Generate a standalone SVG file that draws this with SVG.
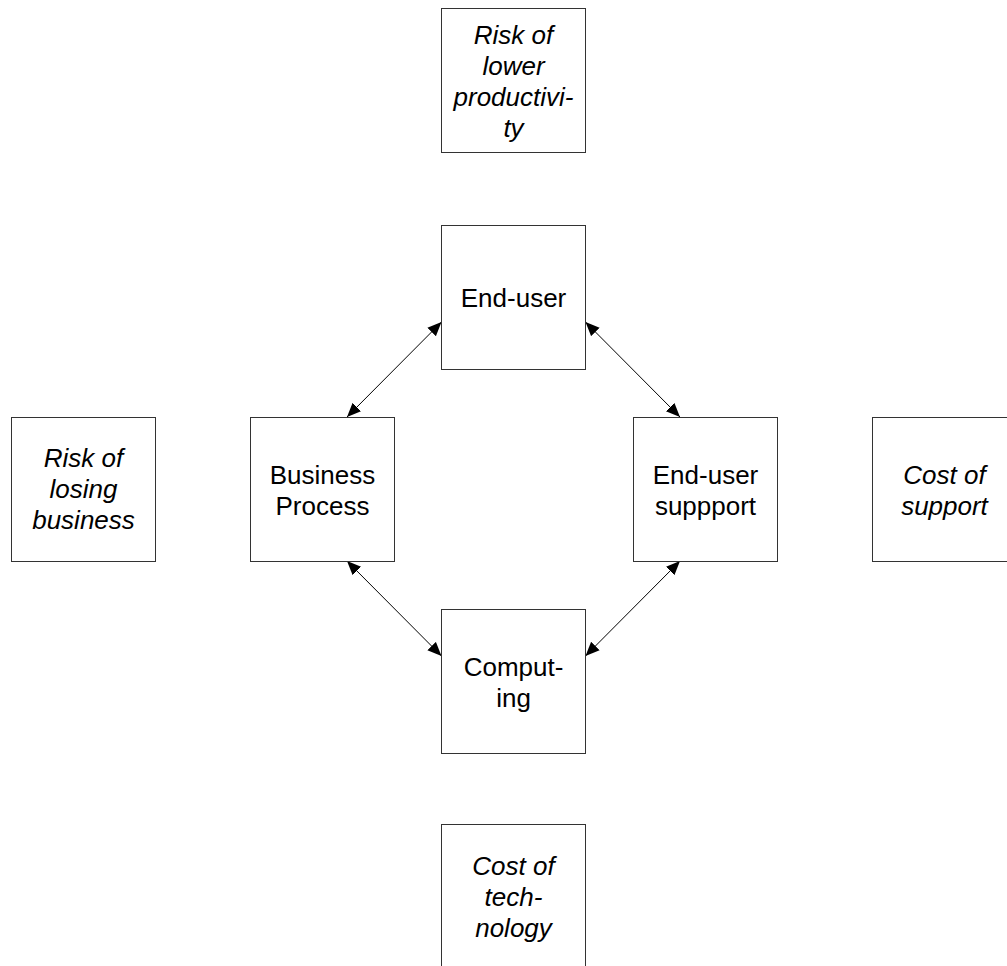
<svg xmlns="http://www.w3.org/2000/svg" width="1007" height="966" viewBox="0 0 1007 966">
  <style>
    .box { fill: #ffffff; stroke: #333333; stroke-width: 1; }
    .lbl { font-family: "Liberation Sans", Arial, sans-serif; font-size: 26px; fill: #000000; text-anchor: middle; }
    .it { font-style: italic; }
    .conn { stroke: #000000; stroke-width: 1; fill: none; marker-start: url(#arrow); marker-end: url(#arrow); }
  </style>
  <defs>
    <marker id="arrow" markerUnits="userSpaceOnUse" markerWidth="16" markerHeight="14" refX="14" refY="6.5" orient="auto-start-reverse">
      <path d="M0,0.5 L14,6.5 L0,12.5 z" fill="#000000"/>
    </marker>
  </defs>
  <rect width="1007" height="966" fill="#ffffff"/>

  <!-- connectors between the four core elements -->
  <g id="connectors">
    <line class="conn" x1="347" y1="417" x2="441.5" y2="322"/>
    <line class="conn" x1="585.5" y1="322" x2="680" y2="417"/>
    <line class="conn" x1="347" y1="561" x2="441.5" y2="656"/>
    <line class="conn" x1="680" y1="561" x2="585.5" y2="656"/>
  </g>

  <g id="risk-lower-productivity">
    <rect class="box" x="441.5" y="8.5" width="144" height="144"/>
    <text class="lbl it" x="513.5" y="44">Risk of</text>
    <text class="lbl it" x="513.5" y="75">lower</text>
    <text class="lbl it" x="513.5" y="106">productivi-</text>
    <text class="lbl it" x="513.5" y="137">ty</text>
  </g>

  <g id="end-user">
    <rect class="box" x="441.5" y="225.5" width="144" height="144"/>
    <text class="lbl" x="513.5" y="307">End-user</text>
  </g>

  <g id="risk-losing-business">
    <rect class="box" x="11.5" y="417.5" width="144" height="144"/>
    <text class="lbl it" x="83.5" y="467">Risk of</text>
    <text class="lbl it" x="83.5" y="498">losing</text>
    <text class="lbl it" x="83.5" y="529">business</text>
  </g>

  <g id="business-process">
    <rect class="box" x="250.5" y="417.5" width="144" height="144"/>
    <text class="lbl" x="322.5" y="484">Business</text>
    <text class="lbl" x="322.5" y="515">Process</text>
  </g>

  <g id="end-user-support">
    <rect class="box" x="633.5" y="417.5" width="144" height="144"/>
    <text class="lbl" x="705.5" y="484">End-user</text>
    <text class="lbl" x="705.5" y="515">suppport</text>
  </g>

  <g id="cost-of-support">
    <rect class="box" x="872.5" y="417.5" width="144" height="144"/>
    <text class="lbl it" x="944.5" y="484">Cost of</text>
    <text class="lbl it" x="944.5" y="515">support</text>
  </g>

  <g id="computing">
    <rect class="box" x="441.5" y="609.5" width="144" height="144"/>
    <text class="lbl" x="513.5" y="676">Comput-</text>
    <text class="lbl" x="513.5" y="707">ing</text>
  </g>

  <g id="cost-of-technology">
    <rect class="box" x="441.5" y="824.5" width="144" height="144"/>
    <text class="lbl it" x="513.5" y="875">Cost of</text>
    <text class="lbl it" x="513.5" y="906">tech-</text>
    <text class="lbl it" x="513.5" y="937">nology</text>
  </g>
</svg>
